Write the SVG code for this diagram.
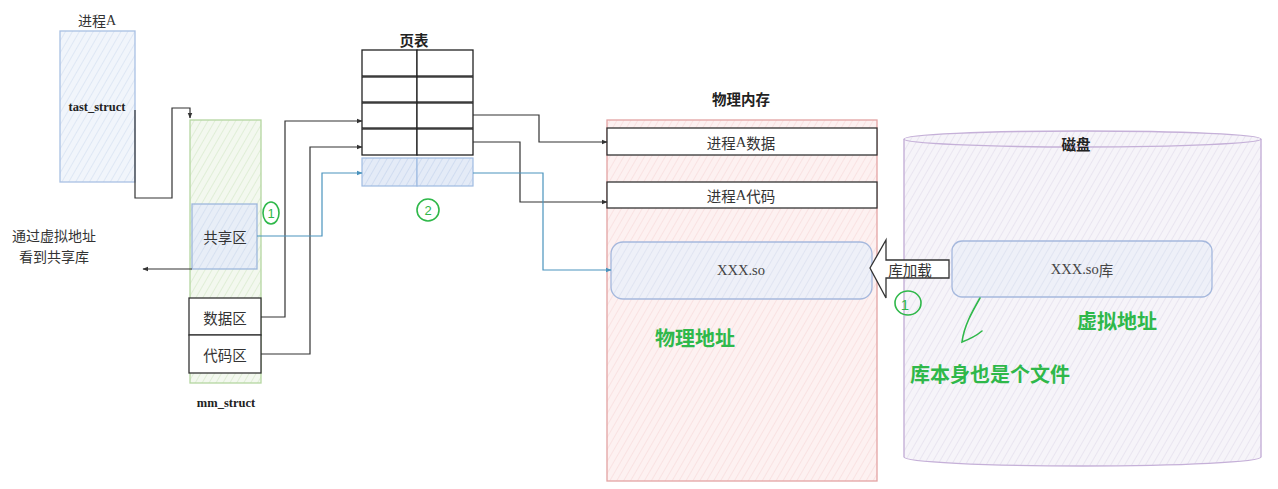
<svg xmlns="http://www.w3.org/2000/svg" width="1278" height="489" viewBox="0 0 1278 489">
<style>
text{font-family:"Liberation Serif","Noto Sans CJK SC",serif;fill:#333;dominant-baseline:central;text-anchor:middle}
.cjk{font-family:"Noto Sans CJK SC",sans-serif}
.lbl{font-size:14.5px}
.nt{font-family:"Noto Sans CJK SC",sans-serif;font-size:14px}
.ttl{font-family:"Noto Sans CJK SC",sans-serif;font-weight:bold;font-size:14.5px;fill:#222}
.ser{font-family:"Liberation Serif",serif;font-weight:bold;font-size:12.5px;fill:#222}
.grn{font-family:"Noto Sans CJK SC",sans-serif;font-weight:bold;font-size:20px;fill:#2fb84a}
.gnum{font-family:"Liberation Sans",sans-serif;font-size:13px;fill:#2fb84a}
.gs{fill:none;stroke:#2fb84a;stroke-width:1.6;stroke-linecap:round}
.cell{fill:#fff;stroke:#222;stroke-width:1.3}
.wb{fill:#fff;stroke:#333;stroke-width:1.3}
.k{fill:none;stroke:#333;stroke-width:1.2}
.b{fill:none;stroke:#4a93bd;stroke-width:1.2}
</style>
<defs>
<pattern id="hBlue" width="6" height="6" patternUnits="userSpaceOnUse" patternTransform="rotate(30)"><rect width="6" height="6" fill="#f1f5fb"/><line x1="0" y1="0" x2="0" y2="6" stroke="#d7e2f2" stroke-width="1.4"/></pattern>
<pattern id="hGreen" width="6" height="6" patternUnits="userSpaceOnUse" patternTransform="rotate(30)"><rect width="6" height="6" fill="#f3f8ef"/><line x1="0" y1="0" x2="0" y2="6" stroke="#d9eacd" stroke-width="1.4"/></pattern>
<pattern id="hShare" width="6" height="6" patternUnits="userSpaceOnUse" patternTransform="rotate(30)"><rect width="6" height="6" fill="#e8eef7"/><line x1="0" y1="0" x2="0" y2="6" stroke="#d0dcee" stroke-width="1.4"/></pattern>
<pattern id="hRow" width="6" height="6" patternUnits="userSpaceOnUse" patternTransform="rotate(30)"><rect width="6" height="6" fill="#e4ebf7"/><line x1="0" y1="0" x2="0" y2="6" stroke="#c8d6ee" stroke-width="1.4"/></pattern>
<pattern id="hRed" width="6" height="6" patternUnits="userSpaceOnUse" patternTransform="rotate(30)"><rect width="6" height="6" fill="#fdf1f1"/><line x1="0" y1="0" x2="0" y2="6" stroke="#f8dcdc" stroke-width="1.4"/></pattern>
<pattern id="hSo" width="6" height="6" patternUnits="userSpaceOnUse" patternTransform="rotate(30)"><rect width="6" height="6" fill="#eef0f8"/><line x1="0" y1="0" x2="0" y2="6" stroke="#dbe0ef" stroke-width="1.4"/></pattern>
<pattern id="hPur" width="6" height="6" patternUnits="userSpaceOnUse" patternTransform="rotate(30)"><rect width="6" height="6" fill="#f6f4f9"/><line x1="0" y1="0" x2="0" y2="6" stroke="#e4dfed" stroke-width="1.4"/></pattern>
<marker id="ak" viewBox="0 0 10 10" refX="9" refY="5" markerWidth="6" markerHeight="6" orient="auto" markerUnits="userSpaceOnUse"><path d="M0,1 L10,5 L0,9 Z" fill="#333"/></marker>
<marker id="ab" viewBox="0 0 10 10" refX="9" refY="5" markerWidth="6" markerHeight="6" orient="auto" markerUnits="userSpaceOnUse"><path d="M0,1 L10,5 L0,9 Z" fill="#4a93bd"/></marker>
</defs>

<g id="processA">
<text class="cjk" x="97" y="20" style="font-size:14px"><tspan>进程</tspan><tspan style="font-family:'Liberation Serif',serif">A</tspan></text>
<rect x="60" y="31" width="75" height="151" fill="url(#hBlue)" stroke="#a9c0e3" stroke-width="1.3"/>
<text class="ser" x="97" y="107">tast_struct</text>
</g>

<g id="mm_struct">
<rect x="190" y="120" width="71" height="263" fill="url(#hGreen)" stroke="#b4d6a0" stroke-width="1.3"/>
<text class="ser" x="226" y="403">mm_struct</text>
</g>
<g id="share">
<rect x="192" y="204" width="65" height="65" fill="url(#hShare)" stroke="#9db7dc" stroke-width="1.3"/>
<text class="cjk lbl" x="225" y="236">共享区</text>
</g>
<g id="data">
<rect x="189" y="298" width="72" height="37" class="wb"/>
<text class="cjk lbl" x="225" y="317">数据区</text>
</g>
<g id="code">
<rect x="189" y="335" width="72" height="38" class="wb"/>
<text class="cjk lbl" x="225" y="354">代码区</text>
</g>

<g id="note">
<text class="nt" x="54" y="235">通过虚拟地址</text>
<text class="nt" x="54" y="256">看到共享库</text>
</g>

<g id="pagetable">
<text class="ttl" x="414" y="39">页表</text>
<rect class="cell" x="362" y="50" width="55" height="26"/><rect class="cell" x="417" y="50" width="56" height="26"/>
<rect class="cell" x="362" y="77" width="55" height="25"/><rect class="cell" x="417" y="77" width="56" height="25"/>
<rect class="cell" x="362" y="103" width="55" height="25"/><rect class="cell" x="417" y="103" width="56" height="25"/>
<rect class="cell" x="362" y="129" width="55" height="26"/><rect class="cell" x="417" y="129" width="56" height="26"/>
<rect x="362" y="158" width="55" height="28" fill="url(#hRow)" stroke="#9fbbe2" stroke-width="1.2"/>
<rect x="417" y="158" width="56" height="28" fill="url(#hRow)" stroke="#9fbbe2" stroke-width="1.2"/>
</g>

<g id="physmem">
<text class="ttl" x="741" y="98">物理内存</text>
<rect x="607" y="120" width="270" height="361" fill="url(#hRed)" stroke="#e3a3a3" stroke-width="1.3"/>
<text class="grn" x="695" y="337">物理地址</text>
</g>
<g id="procAdata">
<rect class="wb" x="607" y="128" width="270" height="27"/>
<text class="lbl" x="741" y="142"><tspan class="cjk">进程</tspan>A<tspan class="cjk">数据</tspan></text>
</g>
<g id="procAcode">
<rect class="wb" x="607" y="182" width="270" height="26"/>
<text class="lbl" x="741" y="195"><tspan class="cjk">进程</tspan>A<tspan class="cjk">代码</tspan></text>
</g>
<g id="soMem">
<rect x="611" y="242" width="261" height="57" rx="12" fill="url(#hSo)" stroke="#a5b8dd" stroke-width="1.3"/>
<text x="741" y="270" style="font-size:14.5px;fill:#444">XXX.so</text>
</g>

<g id="disk">
<path d="M904,139 V457 A178.5,9 0 0 0 1261,457 V139 A178.5,8 0 0 0 904,139 Z" fill="url(#hPur)" stroke="#c5b0d8" stroke-width="1.4"/>
<path d="M904,139 A178.5,8 0 0 0 1261,139" fill="none" stroke="#c5b0d8" stroke-width="1.4"/>
<text class="ttl" x="1076" y="143">磁盘</text>
<text class="grn" x="1117" y="320">虚拟地址</text>
<text class="grn" x="990" y="373">库本身也是个文件</text>
</g>
<g id="soDisk">
<rect x="952" y="241" width="260" height="56" rx="10" fill="url(#hSo)" stroke="#a5b8dd" stroke-width="1.3"/>
<text x="1082" y="269" style="font-size:14.5px;fill:#444">XXX.so<tspan class="cjk">库</tspan></text>
</g>

<g id="load">
<polygon points="870,268 886,240 886,260 949,260 949,278 886,278 886,298" fill="#fff" stroke="#333" stroke-width="1.3"/>
<text class="cjk lbl" x="910" y="269">库加载</text>
</g>

<g id="marks">
<ellipse class="gs" cx="271" cy="213" rx="8" ry="11"/>
<text class="gnum" x="271" y="213">1</text>
<ellipse class="gs" cx="428" cy="210" rx="11" ry="11"/>
<text class="gnum" x="428" y="210">2</text>
<ellipse class="gs" cx="908" cy="303" rx="13" ry="12"/>
<text class="gnum" x="905" y="304" style="font-size:15px">1</text>
<path class="gs" d="M980,298 C972,312 964,326 962,342 C970,339 976,336 982,331"/>
</g>

<g id="connectors">
<path class="k" d="M135,110 V198 H172 V108 H190 V118" marker-end="url(#ak)"/>
<path class="k" d="M192,269 H143" marker-end="url(#ak)"/>
<path class="k" d="M261,317 H285 V121 H362" marker-end="url(#ak)"/>
<path class="k" d="M261,354 H310 V147 H362" marker-end="url(#ak)"/>
<path class="b" d="M257,236 H322 V173 H362" marker-end="url(#ab)"/>
<path class="k" d="M473,115 H539 V142 H607" marker-end="url(#ak)"/>
<path class="k" d="M473,142 H520 V202 H607" marker-end="url(#ak)"/>
<path class="b" d="M473,173 H543 V270 H611" marker-end="url(#ab)"/>
</g>
</svg>
